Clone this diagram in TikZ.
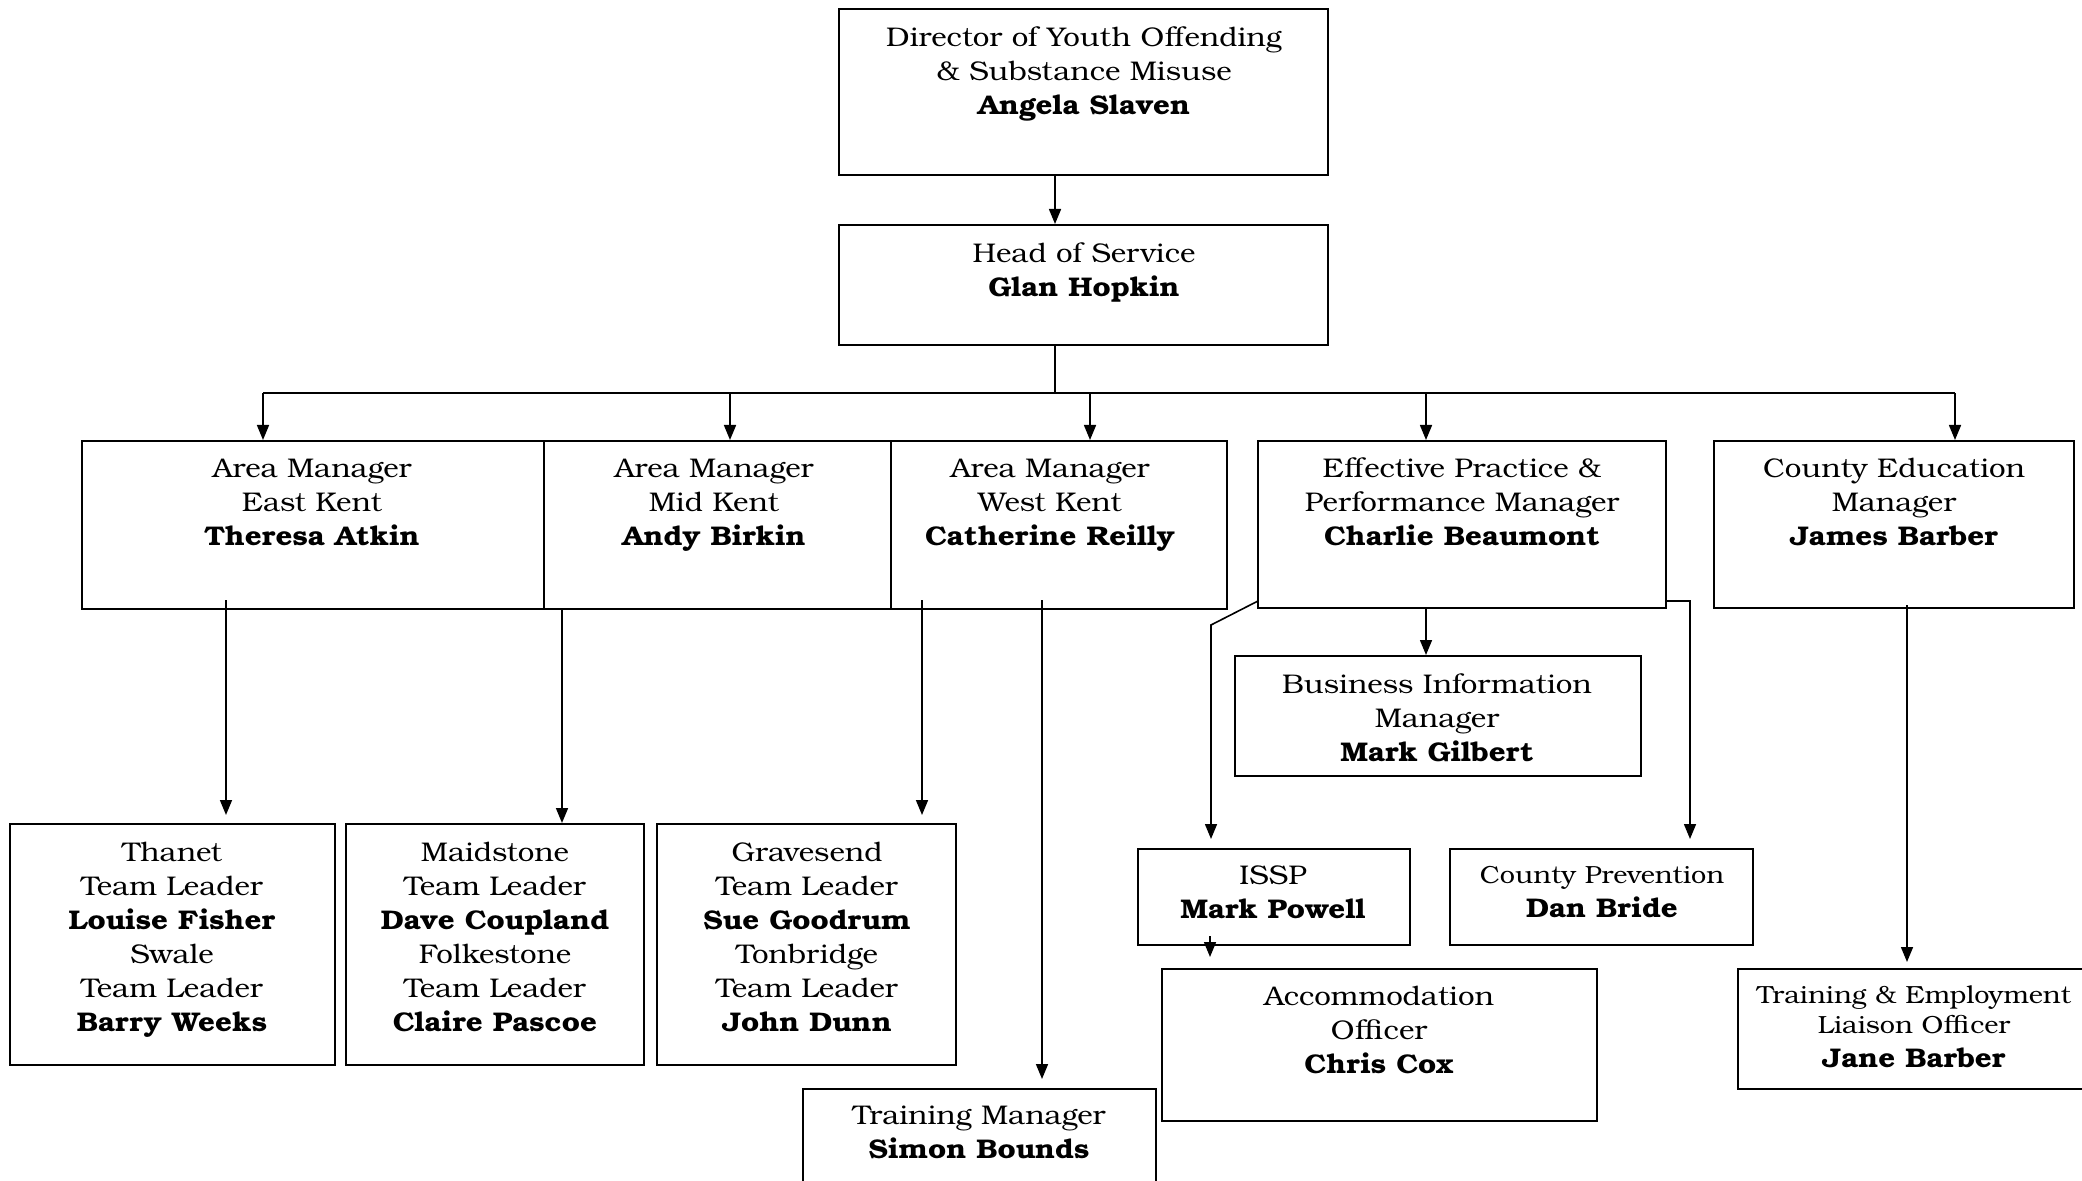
\documentclass[tikz,border=0pt]{standalone}
\usepackage{fontspec}
\setmainfont[FakeStretch=1.09]{TeX Gyre Bonum}
\usetikzlibrary{arrows.meta,fit}
\newcommand\tl{\rule{0pt}{12pt}}
\newcommand\sm{\fontsize{12.4}{17}\selectfont}
\begin{document}
\begin{tikzpicture}[x=0.5pt,y=-0.5pt,
  box/.style={draw, line width=1pt, inner sep=0pt, fit={#1}},
  txt/.style={align=center, inner sep=0pt, anchor=north, font=\fontsize{13.5}{17}\selectfont},
  con/.style={line width=0.8pt},
  arr/.style={line width=0.8pt, -{Triangle[length=7.5pt,width=6pt]}}]
\clip (0,0) rectangle (2082,1181);
\fill[white] (0,0) rectangle (2082,1181);

% boxes
\node[box={(839,9)(1328,175)}] (dir) {};
\node[box={(839,225)(1328,345)}] (head) {};
\node[box={(82,441)(544,609)}] (east) {};
\node[box={(544,441)(891,609)}] (mid) {};
\node[box={(891,441)(1227,609)}] (west) {};
\node[box={(1258,441)(1666,608)}] (ep) {};
\node[box={(1714,441)(2074,608)}] (ce) {};
\node[box={(1235,656)(1641,776)}] (bi) {};
\node[box={(1138,849)(1410,945)}] (issp) {};
\node[box={(1450,849)(1753,945)}] (cp) {};
\node[box={(1162,969)(1597,1121)}] (acc) {};
\node[box={(10,824)(335,1065)}] (thanet) {};
\node[box={(346,824)(644,1065)}] (maid) {};
\node[box={(657,824)(956,1065)}] (grav) {};
\node[box={(803,1089)(1156,1210)}] (trn) {};
\node[box={(1738,969)(2095,1089)}] (te) {};

% texts
\node[txt] (dirT) at (1084,22) {\tl Director of Youth Offending\\ \& Substance Misuse\\ \textbf{Angela Slaven}};
\node[txt] (headT) at (1084,238) {\tl Head of Service\\ \textbf{Glan Hopkin}};
\node[txt] (eastT) at (312,453) {\tl Area Manager\\ East Kent\\ \textbf{Theresa Atkin}};
\node[txt] (midT) at (714,453) {\tl Area Manager\\ Mid Kent\\ \textbf{Andy Birkin}};
\node[txt] (westT) at (1050,453) {\tl Area Manager\\ West Kent\\ \textbf{Catherine Reilly}};
\node[txt] (epT) at (1462,453) {\tl Effective Practice \&\\ Performance Manager\\ \textbf{Charlie Beaumont}};
\node[txt] (ceT) at (1894,453) {\tl County Education\\ Manager\\ \textbf{James Barber}};
\node[txt] (biT) at (1437,669) {\tl Business Information\\ Manager\\ \textbf{Mark Gilbert}};
\node[txt] (isspT) at (1273,860) {\tl ISSP\\ \textbf{Mark Powell}};
\node[txt] (cpT) at (1602,859) {\tl {\sm County Prevention}\\ \textbf{Dan Bride}};
\node[txt] (accT) at (1379,981) {\tl Accommodation\\ Officer\\ \textbf{Chris Cox}};
\node[txt] (thanetT) at (172,837) {\tl Thanet\\ Team Leader\\ \textbf{Louise Fisher}\\ Swale\\ Team Leader\\ \textbf{Barry Weeks}};
\node[txt] (maidT) at (495,837) {\tl Maidstone\\ Team Leader\\ \textbf{Dave Coupland}\\ Folkestone\\ Team Leader\\ \textbf{Claire Pascoe}};
\node[txt] (gravT) at (807,837) {\tl Gravesend\\ Team Leader\\ \textbf{Sue Goodrum}\\ Tonbridge\\ Team Leader\\ \textbf{John Dunn}};
\node[txt] (trnT) at (979,1100) {\tl Training Manager\\ \textbf{Simon Bounds}};
\node[txt] (teT) at (1914,979) {\tl {\sm Training \& Employment}\\[-2pt] {\sm Liaison Officer}\\ \textbf{Jane Barber}};

% coordinates
\coordinate (busC) at (1055,393);
\coordinate (bEast) at (263,393);
\coordinate (bMid) at (730,393);
\coordinate (bWest) at (1090,393);
\coordinate (bEP) at (1426,393);
\coordinate (bCE) at (1955,393);
\coordinate (eS) at (226,600);
\coordinate (mS) at (562,609);
\coordinate (wS) at (922,600);
\coordinate (tS) at (1042,600);
\coordinate (ipS) at (1258,601);
\coordinate (ipK) at (1211,625);
\coordinate (cpK) at (1690,601);
\coordinate (ceS) at (1907,605);
\coordinate (iaS) at (1210,936);

% connectors
\draw[arr] (dir.south -| busC) -- (head.north -| busC);
\draw[con] (head.south -| busC) -- (busC);
\draw[con] (bEast) -- (bCE);
\draw[arr] (bEast) -- (bEast |- east.north);
\draw[arr] (bMid) -- (bMid |- mid.north);
\draw[arr] (bWest) -- (bWest |- west.north);
\draw[arr] (bEP) -- (bEP |- ep.north);
\draw[arr] (bCE) -- (bCE |- ce.north);
\draw[arr, shorten >=4pt] (eS) -- (eS |- thanet.north);
\draw[arr] (mS) -- (mS |- maid.north);
\draw[arr, shorten >=4pt] (wS) -- (wS |- grav.north);
\draw[arr, shorten >=4.5pt] (tS) -- (tS |- trn.north);
\draw[arr] (ep.south -| bEP) -- (bi.north -| bEP);
\draw[arr, shorten >=4.5pt] (ipS) -- (ipK) -- (ipK |- issp.north);
\draw[arr, shorten >=4.5pt] (ep.east |- cpK) -- (cpK) -- (cpK |- cp.north);
\draw[arr, shorten >=3pt] (ceS) -- (ceS |- te.north);
\draw[arr, shorten >=5.5pt] (iaS) -- (iaS |- acc.north);
\end{tikzpicture}
\end{document}
